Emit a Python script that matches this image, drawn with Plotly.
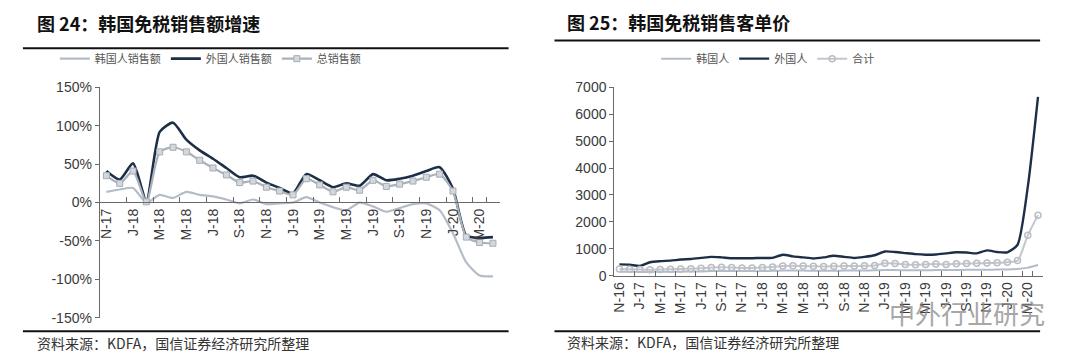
import plotly.graph_objects as go

# ---------------- Left chart: 韩国免税销售额增速 (YoY, %) ----------------
months_left = ["2017-11", "2017-12", "2018-01", "2018-02", "2018-03", "2018-04", "2018-05", "2018-06",
               "2018-07", "2018-08", "2018-09", "2018-10", "2018-11", "2018-12", "2019-01", "2019-02",
               "2019-03", "2019-04", "2019-05", "2019-06", "2019-07", "2019-08", "2019-09", "2019-10",
               "2019-11", "2019-12", "2020-01", "2020-02", "2020-03", "2020-04"]
labels_left = ["N-17", "J-18", "M-18", "M-18", "J-18", "S-18", "N-18", "J-19", "M-19", "M-19",
               "J-19", "S-19", "N-19", "J-20", "M-20"]
korean_growth = [14, 17, 19, 0, 10, 6, 14, 10, 8, 4, -1, 4, -2, -1, 0, 7, 0, -6, -10, 0,
                 -5, -12, -7, -2, -1, -10, -40, -78, -95, -96]
foreign_growth = [41, 30, 51, 2, 92, 104, 82, 68, 57, 45, 33, 35, 26, 19, 12, 37, 29, 20, 25, 22,
                  37, 29, 31, 35, 41, 46, 18, -43, -46, -45]
total_growth = [35, 25, 41, 1, 66, 72, 66, 55, 45, 36, 26, 28, 20, 15, 10, 31, 23, 14, 20, 16,
                29, 21, 24, 28, 33, 37, 15, -45, -52, -53]
yticks_left = [-150, -100, -50, 0, 50, 100, 150]
yticktext_left = ["-150%", "-100%", "-50%", "0%", "50%", "100%", "150%"]

# ---------------- Right chart: 韩国免税销售客单价 ----------------
months_right = ["2016-11", "2016-12", "2017-01", "2017-02", "2017-03", "2017-04", "2017-05", "2017-06",
                "2017-07", "2017-08", "2017-09", "2017-10", "2017-11", "2017-12", "2018-01", "2018-02",
                "2018-03", "2018-04", "2018-05", "2018-06", "2018-07", "2018-08", "2018-09", "2018-10",
                "2018-11", "2018-12", "2019-01", "2019-02", "2019-03", "2019-04", "2019-05", "2019-06",
                "2019-07", "2019-08", "2019-09", "2019-10", "2019-11", "2019-12", "2020-01", "2020-02",
                "2020-03", "2020-04"]
labels_right = ["N-16", "J-17", "M-17", "M-17", "J-17", "S-17", "N-17", "J-18", "M-18", "M-18",
                "J-18", "S-18", "N-18", "J-19", "M-19", "M-19", "J-19", "S-19", "N-19", "J-20", "M-20"]
korean_price = [150, 150, 140, 140, 150, 150, 150, 160, 160, 170, 170, 170, 170, 170, 170, 180,
                190, 190, 190, 180, 180, 180, 190, 190, 190, 200, 210, 210, 200, 200, 200, 210,
                210, 210, 220, 220, 220, 230, 230, 250, 300, 400]
foreign_price = [420, 410, 360, 500, 540, 560, 600, 620, 660, 700, 680, 650, 650, 650, 660, 660,
                 780, 720, 680, 640, 680, 740, 700, 660, 700, 760, 900, 880, 840, 800, 780, 790,
                 830, 870, 860, 830, 940, 880, 870, 1150, 3300, 6650]
total_price = [250, 240, 230, 220, 230, 240, 250, 260, 280, 300, 310, 300, 290, 290, 300, 320,
               360, 370, 360, 350, 340, 350, 360, 360, 370, 380, 460, 450, 420, 410, 420, 430,
               420, 440, 450, 460, 470, 480, 500, 560, 1500, 2250]

W, H = 1080, 364
def px(x):
    return x / W
def py(y):
    return 1 - y / H

CJK = "Noto Sans CJK SC"
NUM = "Liberation Sans"
C_KOR = "#b3bcc7"
C_FOR = "#1d2f47"
C_TOT = "#aab1b9"
AX = "#6a6a6a"

fig = go.Figure()

# left traces
fig.add_trace(go.Scatter(x=months_left, y=korean_growth, name="韩国人销售额", mode="lines",
                         line=dict(color=C_KOR, width=2.2, shape="spline", smoothing=0.6),
                         xaxis="x", yaxis="y", legend="legend"))
fig.add_trace(go.Scatter(x=months_left, y=foreign_growth, name="外国人销售额", mode="lines",
                         line=dict(color=C_FOR, width=2.6, shape="spline", smoothing=0.6),
                         xaxis="x", yaxis="y", legend="legend"))
fig.add_trace(go.Scatter(x=months_left, y=total_growth, name="总销售额", mode="lines+markers",
                         line=dict(color=C_TOT, width=2.2, shape="spline", smoothing=0.6),
                         marker=dict(symbol="square", size=6, color="#d4d8dd",
                                     line=dict(color="#a4acb5", width=1)),
                         xaxis="x", yaxis="y", legend="legend"))

# right traces
fig.add_trace(go.Scatter(x=months_right, y=korean_price, name="韩国人", mode="lines",
                         line=dict(color=C_KOR, width=2, shape="spline", smoothing=0.6),
                         xaxis="x2", yaxis="y2", legend="legend2"))
fig.add_trace(go.Scatter(x=months_right, y=foreign_price, name="外国人", mode="lines",
                         line=dict(color=C_FOR, width=2.4, shape="spline", smoothing=0.6),
                         xaxis="x2", yaxis="y2", legend="legend2"))
fig.add_trace(go.Scatter(x=months_right, y=total_price, name="合计", mode="lines+markers",
                         line=dict(color="#c3c7cc", width=2, shape="spline", smoothing=0.6),
                         marker=dict(symbol="circle-open", size=6, color="#b9bec4",
                                     line=dict(width=1.5)),
                         xaxis="x2", yaxis="y2", legend="legend2"))

tickfont = dict(family=NUM, size=14, color="#3a3a3a")

fig.update_layout(
    width=W, height=H,
    margin=dict(l=0, r=0, t=0, b=0),
    paper_bgcolor="white", plot_bgcolor="white",
    showlegend=True,
    xaxis=dict(domain=[px(97), px(498)], type="category", anchor="free",
               position=py(203), range=[-0.5, len(months_left) - 0.5],
               tickmode="array", tickvals=months_left[::2], ticktext=labels_left,
               tickangle=-90, tickson="boundaries", ticks="inside", ticklen=5,
               tickcolor=AX, showline=True, linecolor=AX, linewidth=1,
               showgrid=False, zeroline=False, tickfont=tickfont),
    yaxis=dict(domain=[py(324), py(83)], range=[-150, 150], anchor="x",
               tickmode="array", tickvals=yticks_left, ticktext=yticktext_left,
               ticks="outside", ticklen=4, tickcolor=AX, showline=True, linecolor=AX,
               linewidth=1, showgrid=False, zeroline=False, tickfont=tickfont),
    xaxis2=dict(domain=[px(613), px(1043)], type="category", anchor="y2",
                range=[-0.5, len(months_right) - 0.5],
                tickmode="array", tickvals=months_right[::2], ticktext=labels_right,
                tickangle=-90, tickson="boundaries", ticks="inside", ticklen=5,
                tickcolor=AX, showline=True, linecolor=AX, linewidth=1,
                showgrid=False, zeroline=False, tickfont=tickfont),
    yaxis2=dict(domain=[py(280), py(83)], range=[0, 7000], anchor="x2",
                tickmode="linear", tick0=0, dtick=1000,
                ticks="outside", ticklen=4, tickcolor=AX, showline=True, linecolor=AX,
                linewidth=1, showgrid=False, zeroline=False, tickfont=tickfont),
    legend=dict(orientation="h", x=px(52), xanchor="left", y=py(53), yanchor="middle",
                font=dict(family=CJK, size=11, color="#555"), bgcolor="rgba(0,0,0,0)",
                itemwidth=30, tracegroupgap=0),
    legend2=dict(orientation="h", x=px(655), xanchor="left", y=py(53), yanchor="middle",
                 font=dict(family=CJK, size=11, color="#555"), bgcolor="rgba(0,0,0,0)",
                 itemwidth=30),
)

shapes = [
    dict(type="line", xref="paper", yref="paper", x0=px(20), x1=px(507), y0=py(42), y1=py(42),
         line=dict(color="#111", width=2)),
    dict(type="line", xref="paper", yref="paper", x0=px(553), x1=px(1040), y0=py(34), y1=py(34),
         line=dict(color="#111", width=2)),
    dict(type="line", xref="paper", yref="paper", x0=px(20), x1=px(507), y0=py(338), y1=py(338),
         line=dict(color="#111", width=2)),
    dict(type="line", xref="paper", yref="paper", x0=px(553), x1=px(1040), y0=py(338), y1=py(338),
         line=dict(color="#111", width=2)),
]
fig.update_layout(shapes=shapes)

ann = [
    dict(text="<b>图 24：韩国免税销售额增速</b>", x=px(32), y=py(16), xref="paper", yref="paper",
         xanchor="left", yanchor="middle", showarrow=False,
         font=dict(family=CJK, size=18, color="#111")),
    dict(text="<b>图 25：韩国免税销售客单价</b>", x=px(564), y=py(15), xref="paper", yref="paper",
         xanchor="left", yanchor="middle", showarrow=False,
         font=dict(family=CJK, size=18, color="#111")),
    dict(text="资料来源：KDFA，国信证券经济研究所整理", x=px(32), y=py(350), xref="paper", yref="paper",
         xanchor="left", yanchor="middle", showarrow=False,
         font=dict(family=CJK, size=14, color="#333")),
    dict(text="资料来源：KDFA，国信证券经济研究所整理", x=px(564), y=py(349), xref="paper", yref="paper",
         xanchor="left", yanchor="middle", showarrow=False,
         font=dict(family=CJK, size=14, color="#333")),
    dict(text="中外行业研究", x=px(1047), y=py(318), xref="paper", yref="paper",
         xanchor="right", yanchor="middle", showarrow=False, opacity=0.75,
         font=dict(family=CJK, size=26, color="#8a8a8a")),
]
fig.update_layout(annotations=ann)

fig.write_html(
    "out.html",
    config={"displayModeBar": False},
    post_script=(
        "document.documentElement.style.margin='0';"
        "document.documentElement.style.padding='0';"
        "document.documentElement.style.overflow='hidden';"
        "document.documentElement.style.height='364px';"
        "document.body.style.margin='0';"
        "document.body.style.padding='0';"
        "document.body.style.overflow='hidden';"
        "document.body.style.height='364px';"
    ),
)
